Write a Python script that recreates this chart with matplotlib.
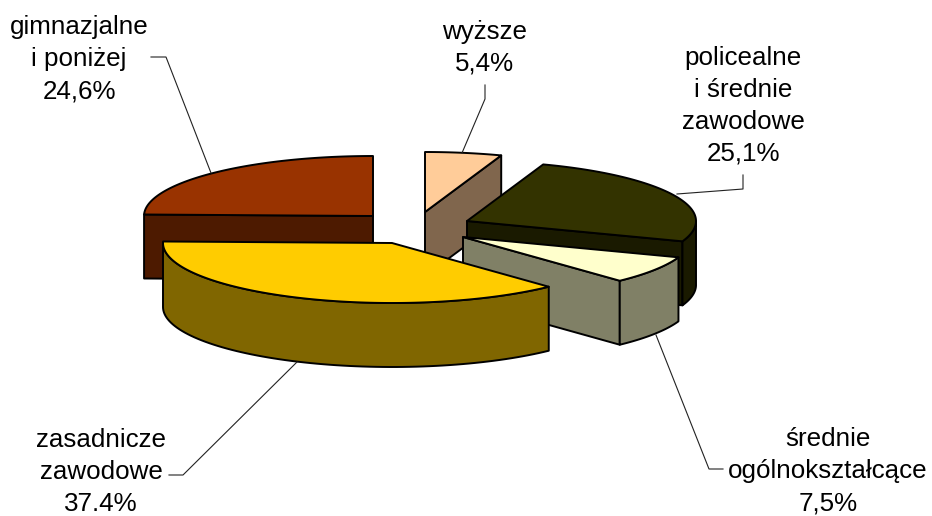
import numpy as np
import matplotlib
matplotlib.use('Agg')
import matplotlib.pyplot as plt

# udzial wyksztalcenia, zgodnie z ruchem wskazowek od godziny 12
categories = ['wyższe', 'policealne\ni średnie\nzawodowe', 'średnie\nogólnokształcące',
              'zasadnicze\nzawodowe', 'gimnazjalne\ni poniżej']
values = [5.4, 25.1, 7.5, 37.4, 24.6]
value_labels = ['5,4%', '25,1%', '7,5%', '37.4%', '24,6%']

top_colors = ['#FFCC99', '#333300', '#FFFFCC', '#FFCC00', '#993300']
side_colors = ['#80664D', '#1A1A00', '#808066', '#806600', '#4D1A00']

# geometry of the pie, pixels
cx, cy = 418, 229
rx, ry, depth = 229, 60, 64
offset_x = [7, 49, 45, -26, -45]
offset_y = [-17, -8, 8, 14, -13]
draw_order = [0, 4, 1, 2, 3]

label_x = [485, 743, 828, 101, 79]
label_baseline = [71, 161, 510, 511, 98]
leaders = [
    [(485, 85), (485, 99), (462, 153)],
    [(743, 175), (743, 189), (677, 194)],
    [(723, 469), (709, 469), (656, 335)],
    [(169, 475), (183, 475), (297, 362)],
    [(151, 57), (166, 57), (211, 173)],
]

plt.rcParams['font.family'] = ['Liberation Sans', 'DejaVu Sans']

fig = plt.figure(figsize=(9.32, 5.16), dpi=100)
ax = fig.add_axes([0, 0, 1, 1])
ax.set_xlim(0, 932)
ax.set_ylim(516, 0)
ax.axis('off')


def edge_point(angle, x0, y0):
    return x0 + rx * np.sin(angle), y0 - ry * np.cos(angle)


def draw_face(xs, ys, color):
    ax.fill(xs, ys, facecolor=color, edgecolor='black', linewidth=1.4, joinstyle='round')


ends = np.cumsum(values) / np.sum(values) * 2 * np.pi
starts = np.r_[0, ends[:-1]]

for i in draw_order:
    a0, a1 = starts[i], ends[i]
    x0, y0 = cx + offset_x[i], cy + offset_y[i]

    # radial walls that face the viewer
    for a, visible in ((a0, np.sin(a0) < -1e-6), (a1, np.sin(a1) > 1e-6)):
        if visible:
            ex, ey = edge_point(a, x0, y0)
            draw_face([x0, ex, ex, x0], [y0, ey, ey + depth, y0 + depth], side_colors[i])

    # outer wall, only the front half of the ellipse
    lo, hi = max(a0, np.pi / 2), min(a1, 3 * np.pi / 2)
    if hi > lo:
        t = np.linspace(lo, hi, 80)
        ex, ey = edge_point(t, x0, y0)
        draw_face(np.r_[ex, ex[::-1]], np.r_[ey, ey[::-1] + depth], side_colors[i])

    # top face
    t = np.linspace(a0, a1, 120)
    ex, ey = edge_point(t, x0, y0)
    draw_face(np.r_[x0, ex], np.r_[y0, ey], top_colors[i])

for i in range(len(values)):
    ax.plot(*zip(*leaders[i]), color='#222222', linewidth=0.8, zorder=5)
    ax.text(label_x[i], label_baseline[i], categories[i] + '\n' + value_labels[i], ha='center', va='baseline',
            fontsize=18.7, linespacing=1.42, color='black', zorder=6)

plt.savefig('out.png', dpi=100)
plt.close()
